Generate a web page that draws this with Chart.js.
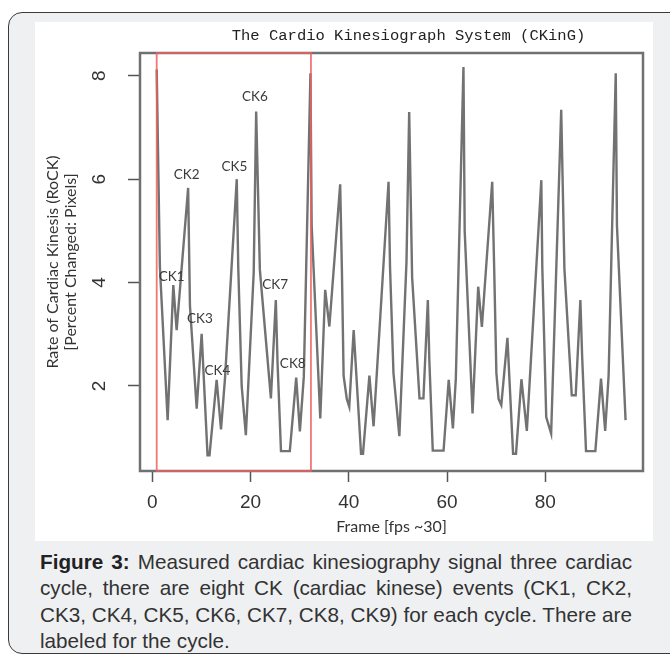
<!DOCTYPE html>
<html>
<head>
<meta charset="utf-8">
<title>CKinG</title>
<script src="https://cdn.jsdelivr.net/npm/chart.js"></script>
<style>
    body { margin: 0; width: 670px; height: 654px; overflow: hidden; background: #fff; position: relative; }
    .frame { position: absolute; left: 8px; top: 12px; width: 700px; height: 640px; border: 1.5px solid #3a3a3a; border-radius: 14px; background: #eff0f2; }
    .panel { position: absolute; left: 35px; top: 22px; width: 618px; height: 519px; background: #fff; }
    .caption { position: absolute; left: 40px; top: 549px; width: 592px; font-family: "Liberation Sans", Arial, sans-serif; font-size: 20.7px; line-height: 26.3px; color: #333; }
    .caption div { text-align: justify; text-align-last: justify; white-space: nowrap; }
    .caption div.last { text-align-last: left; }
    .caption b { color: #222; }
    canvas { position: absolute; left: 0; top: 0; }
</style>
</head>
<body>
<div class="frame"></div>
<div class="panel"></div>
<div class="caption">
    <div><b>Figure 3:</b> Measured cardiac kinesiography signal three cardiac</div>
    <div>cycle, there are eight CK (cardiac kinese) events (CK1, CK2,</div>
    <div>CK3, CK4, CK5, CK6, CK7, CK8, CK9) for each cycle. There are</div>
    <div class="last">labeled for the cycle.</div>
</div>
<canvas id="ck" width="670" height="654"></canvas>
<script>
    // turning points of the RoCK trace, three cycles
    const frames = [
        0.9, 1.55, 3.13, 4.28, 4.96, 7.3, 7.67, 9.04, 10.05, 11.25, 11.65, 13.1, 13.99, 14.8, 17.2, 17.5,
        18.2, 19.05, 20.65, 21.15, 21.9, 24.15, 25.15, 25.5, 26.2, 28.0, 29.3, 30.05, 30.85, 32.2, 32.45, 34.2,
        35.2, 36.05, 38.25, 38.6, 38.95, 39.6, 40.1, 41.0, 42.5, 42.9, 44.2, 45.05, 48.1, 48.4, 49.1, 50.3,
        51.75, 52.3, 52.9, 54.4, 55.2, 56.1, 56.4, 57.1, 59.3, 60.35, 61.2, 61.8, 63.35, 63.6, 65.2,
        66.35, 67.1, 69.2, 69.6, 70.05, 70.5, 71.05, 72.3, 73.45, 74.05, 75.15, 76.25, 79.2, 79.4, 80.2,
        81.2, 83.25, 83.9, 85.4, 86.2, 87.15, 87.5, 88.3, 90.2, 91.35, 92.2, 92.9, 94.35, 94.6, 96.35
    ];
    const rock = [
        8.12, 4.3, 1.34, 3.95, 3.08, 5.83, 3.55, 1.56, 3.01, 0.66, 0.66, 2.12, 1.16, 2.14, 6.0, 4.3,
        2.0, 1.05, 4.2, 7.31, 4.25, 1.76, 3.66, 2.45, 0.74, 0.74, 2.16, 1.12, 2.18, 8.05, 5.1, 1.37,
        3.86, 3.15, 5.9, 4.25, 2.2, 1.75, 1.6, 3.08, 0.69, 0.69, 2.2, 1.22, 5.95, 4.3, 2.25, 1.03,
        4.4, 7.3, 4.1, 1.76, 1.76, 3.66, 2.5, 0.75, 0.75, 2.12, 1.18, 2.15, 8.17, 5.0, 1.47,
        3.92, 3.14, 5.95, 4.3, 2.25, 1.75, 1.63, 2.93, 0.69, 0.69, 2.13, 1.13, 5.98, 4.3, 1.4,
        1.08, 7.34, 4.27, 1.82, 1.82, 3.66, 2.6, 0.74, 0.74, 2.14, 1.13, 2.2, 8.05, 5.1, 1.34
    ];

    // event labels of the first cycle
    const ckNames = ['CK1', 'CK2', 'CK3', 'CK4', 'CK5', 'CK6', 'CK7', 'CK8'];
    const ckFrames = [3.95, 7.0, 9.7, 13.25, 16.7, 20.9, 25.0, 28.6];
    const ckValues = [4.11, 6.09, 3.30, 2.30, 6.25, 7.59, 3.95, 2.43];

    const cycleWindow = [0.9, 32.3];
    const xTicks = [0, 20, 40, 60, 80];
    const yTicks = [2, 4, 6, 8];
    const chartTitle = 'The Cardio Kinesiograph System (CKinG)';

    const decor = {
        id: 'decor',
        beforeDatasetsDraw(chart) {
            const {ctx, chartArea: a} = chart;
            ctx.save();
            ctx.strokeStyle = '#707070';
            ctx.lineWidth = 2.5;
            ctx.strokeRect(a.left, a.top, a.right - a.left, a.bottom - a.top);
            // title sits a bit right of the plot centre, like the original
            ctx.font = '15.5px "Liberation Mono"';
            ctx.fillStyle = '#222';
            ctx.textAlign = 'center';
            ctx.textBaseline = 'middle';
            ctx.fillText(chartTitle, (a.left + a.right) / 2 + 17, a.top - 17);
            ctx.restore();
        },
        afterDatasetsDraw(chart) {
            const {ctx, chartArea: a, scales: {x, y}} = chart;
            ctx.save();
            const x0 = x.getPixelForValue(cycleWindow[0]);
            const x1 = x.getPixelForValue(cycleWindow[1]);
            ctx.strokeStyle = 'rgba(240,95,95,0.85)';
            ctx.lineWidth = 1.8;
            ctx.strokeRect(x0, a.top, x1 - x0, a.bottom - a.top);

            ctx.font = '13.5px Lato';
            ctx.fillStyle = '#3b3b3b';
            ctx.textAlign = 'center';
            ctx.textBaseline = 'middle';
            for (let i = 0; i < ckNames.length; i++) {
                ctx.fillText(ckNames[i], x.getPixelForValue(ckFrames[i]), y.getPixelForValue(ckValues[i]));
            }
            ctx.restore();
        }
    };

    const tickGrid = { display: true, drawOnChartArea: false, drawTicks: true, tickLength: 11, tickColor: '#555', tickWidth: 1.5 };

    new Chart(document.getElementById('ck'), {
        type: 'line',
        data: {
            datasets: [{
                data: frames.map((f, i) => ({x: f, y: rock[i]})),
                borderColor: '#727272',
                borderWidth: 2.4,
                pointRadius: 0,
                tension: 0,
                fill: false
            }]
        },
        options: {
            responsive: false,
            animation: false,
            devicePixelRatio: 1,
            layout: { padding: { left: 35, right: 27, top: 53, bottom: 113 } },
            plugins: {
                legend: { display: false },
                tooltip: { enabled: false },
                title: { display: false }
            },
            scales: {
                x: {
                    type: 'linear',
                    min: -2.5,
                    max: 99.9,
                    afterBuildTicks: s => { s.ticks = xTicks.map(v => ({value: v})); },
                    afterFit: s => { s.height = 70; },
                    grid: tickGrid,
                    border: { display: false },
                    ticks: { padding: 9.6, color: '#333', maxRotation: 0, autoSkip: false,
                             font: { family: 'Liberation Sans', size: 19 } },
                    title: { display: true, text: 'Frame [fps ~30]', color: '#333',
                             font: { family: 'Lato', size: 16 }, padding: { top: 0, bottom: 5 } }
                },
                y: {
                    type: 'linear',
                    min: 0.355,
                    max: 8.44,
                    afterBuildTicks: s => { s.ticks = yTicks.map(v => ({value: v})); },
                    afterFit: s => { s.width = 105; },
                    grid: Object.assign({}, tickGrid, { tickLength: 12 }),
                    border: { display: false },
                    ticks: { padding: 22.7, color: '#333', minRotation: 90, maxRotation: 90, crossAlign: 'center',
                             font: { family: 'Liberation Sans', size: 19 } },
                    title: { display: true, text: ['Rate of Cardiac Kinesis (RoCK)', '[Percent Changed: Pixels]'],
                             color: '#333', font: { family: 'Lato', size: 16, lineHeight: 1.1 },
                             padding: { top: 9.2, bottom: 0 } }
                }
            }
        },
        plugins: [decor]
    });
</script>
</body>
</html>
